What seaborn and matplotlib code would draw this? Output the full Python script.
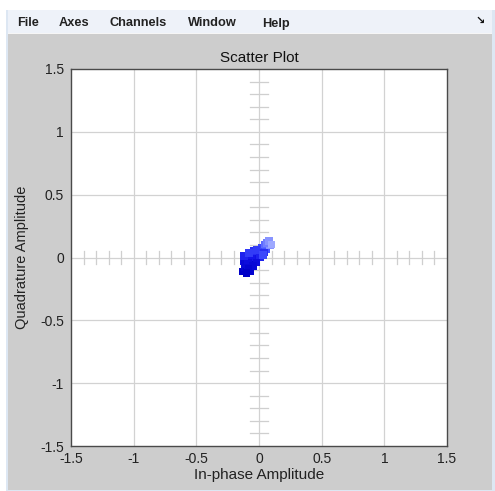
import numpy as np
import pandas as pd
import matplotlib
matplotlib.use("Agg")
import matplotlib.pyplot as plt
from matplotlib.patches import Rectangle
from matplotlib.colors import LinearSegmentedColormap
import seaborn as sns

# ---- data ----
in_phase = [-0.128, -0.112, -0.096, -0.072, -0.088, -0.120, -0.104, -0.072, -0.056,
            -0.024, -0.032, -0.072, -0.032, -0.008, 0.008, 0.024, 0.056, 0.048,
            0.072, 0.088, 0.040, -0.050, 0.000, -0.110, -0.090, -0.060, -0.040,
            -0.020, 0.010, -0.020, -0.050, -0.085, -0.100, 0.060, 0.080, 0.100,
            -0.120, -0.080, 0.030]
quadrature = [-0.112, -0.080, -0.096, -0.112, -0.064, -0.032, 0.000, -0.032, 0.000,
              -0.016, 0.016, 0.032, 0.048, 0.032, 0.064, 0.080, 0.064, 0.104,
              0.120, 0.096, 0.040, -0.060, 0.010, -0.050, -0.020, 0.020, 0.050,
              0.060, 0.000, -0.040, -0.070, -0.090, -0.125, 0.115, 0.130, 0.105,
              0.010, 0.035, 0.020]
age = [0, 1, 0, 1, 2, 3, 4, 2, 3,
       5, 5, 6, 7, 6, 8, 9, 10, 11,
       12, 13, 7, 1, 4, 2, 3, 5, 7,
       8, 6, 3, 2, 1, 0, 12, 13, 14,
       6, 8, 9]

x_ticks = [-1.5, -1, -0.5, 0, 0.5, 1, 1.5]
y_ticks = [-1.5, -1, -0.5, 0, 0.5, 1, 1.5]
tick_labels = ["-1.5", "-1", "-0.5", "0", "0.5", "1", "1.5"]
menu_items = ["File", "Axes", "Channels", "Window", "Help"]
menu_x_px = [17, 59, 110, 188, 262]

df = pd.DataFrame({"I": in_phase, "Q": quadrature, "age": age})

W, H = 495, 491
fig = plt.figure(figsize=(W / 100, H / 100), dpi=100, facecolor="white")

def rect(x0, y0, x1, y1, color):
    fig.patches.append(Rectangle((x0 / W, 1 - y1 / H), (x1 - x0) / W, (y1 - y0) / H,
                                 transform=fig.transFigure, facecolor=color,
                                 edgecolor="none", zorder=-10))

rect(6, 10, 495, 491, "#dde7f3")
rect(8, 10, 492, 33, "#eef2f9")
rect(8, 33, 492, 34, "#f6f6f6")
rect(8, 34, 492, 490, "#cdcdcd")

for label, px in zip(menu_items, menu_x_px):
    fig.text(px / W, 1 - 26.5 / H, label, fontsize=9.2, family="Liberation Sans",
             color="#222222", va="baseline", ha="left", fontweight="bold")
fig.text(480 / W, 1 - 21 / H, "\u2198", fontsize=8, color="#111111", va="center",
         ha="center", fontweight="bold", family="DejaVu Sans")

ax = fig.add_axes([71 / W, 45 / H, 376 / W, 377 / H])
ax.set_facecolor("white")

# grid lines
for v in x_ticks[1:-1]:
    ax.axvline(v, color="#d2d2d2", lw=0.9, zorder=0)
for v in y_ticks[1:-1]:
    ax.axhline(v, color="#d2d2d2", lw=0.9, zorder=0)

# crosshair ticks every 0.1
minor = [round(k * 0.1, 1) for k in range(-14, 15) if k % 5 != 0]
for m in minor:
    ax.plot([m, m], [-0.055, 0.055], color="#cfcfcf", lw=0.9, zorder=1)
    ax.plot([-0.07, 0.07], [m, m], color="#cfcfcf", lw=0.9, zorder=1)

cmap = LinearSegmentedColormap.from_list("fade", ["#0000c8", "#1414ea", "#4655ff", "#b4beff"])
sns.scatterplot(data=df, x="I", y="Q", hue="age", palette=cmap, hue_norm=(0, 15),
                marker="s", s=30, linewidth=0, legend=False, ax=ax, zorder=3)

ax.set_xlim(-1.5, 1.5)
ax.set_ylim(-1.5, 1.5)
ax.set_xticks(x_ticks)
ax.set_yticks(y_ticks)
ax.set_xticklabels(tick_labels)
ax.set_yticklabels(tick_labels)
ax.tick_params(length=0, labelsize=10, colors="#222222")
ax.tick_params(axis="x", pad=4)
ax.tick_params(axis="y", pad=5)
for lab in ax.get_xticklabels() + ax.get_yticklabels():
    lab.set_family("Liberation Sans")
for s in ax.spines.values():
    s.set_color("#4a4a4a")
    s.set_linewidth(1.0)

ax.set_xlabel("In-phase Amplitude", fontsize=11, family="Liberation Sans",
              color="#222222", labelpad=2)
ax.set_ylabel("Quadrature Amplitude", fontsize=10.5, family="Liberation Sans",
              color="#222222", labelpad=6)
ax.yaxis.set_label_coords(-42 / 376, 0.5)
ax.set_title("Scatter Plot", fontsize=11, family="Liberation Sans", color="#111111", pad=5)

fig.savefig("out.png", dpi=100, facecolor=fig.get_facecolor())
